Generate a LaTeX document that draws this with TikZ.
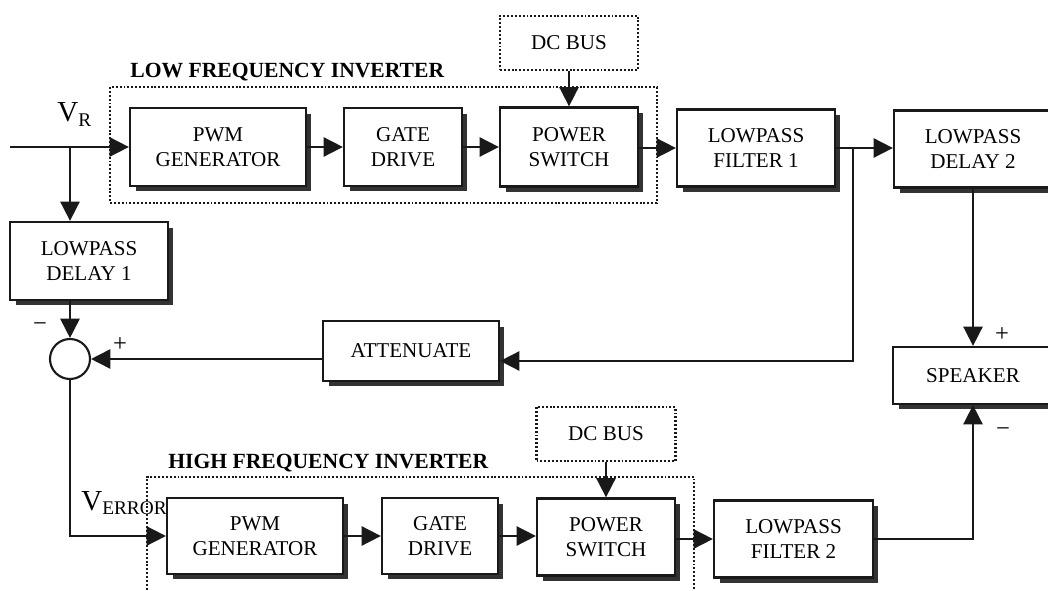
\documentclass[tikz,border=0pt]{standalone}
\usepackage{fontspec}
\setmainfont{Liberation Serif}
\usetikzlibrary{arrows.meta,shadows}
\newcommand\boxfont{\fontsize{12}{14.2}\selectfont}
\begin{document}
\begin{tikzpicture}[x=0.02cm,y=-0.02cm,
  box/.style={draw=black!90, line width=1.3pt, fill=white, align=center, font=\boxfont, inner sep=0pt,
    drop shadow={shadow xshift=0.11cm, shadow yshift=-0.11cm, fill=black!80, opacity=1}},
  dcbox/.style={draw=black!90, line width=1.4pt, dash pattern=on 1.1pt off 1.1pt, fill=white, align=center, font=\boxfont, inner sep=0pt},
  invbox/.style={draw=black!90, line width=1.4pt, dash pattern=on 1.1pt off 1.1pt, inner sep=0pt},
  conn/.style={line width=1pt, draw=black!90, -{Triangle[length=11pt,width=11pt]}},
  title/.style={font=\fontsize{12.3}{14}\selectfont\bfseries, anchor=base west, inner sep=0pt},
  sign/.style={font=\fontsize{14}{14}\selectfont, inner sep=0pt},
  lbl/.style={anchor=base west, inner sep=0pt}
]
\useasboundingbox[fill=white] (0,0) rectangle (1048,591);

% inverter frames
\node[invbox, minimum width=10.94cm, minimum height=2.32cm] (lfinv) at (383.5,145) {};
\node[invbox, minimum width=10.94cm, minimum height=2.66cm] (hfinv) at (420.5,543.5) {};
\node[title] (lftitle) at (130,78) {LOW FREQUENCY INVERTER};
\node[title] (hftitle) at (168,468) {HIGH FREQUENCY INVERTER};

% top row
\node[box, minimum width=3.52cm, minimum height=1.56cm] (pwmA) at (218,147) {PWM\\GENERATOR};
\node[box, minimum width=2.36cm, minimum height=1.56cm] (gateA) at (403,147) {GATE\\DRIVE};
\node[box, minimum width=2.76cm, minimum height=1.58cm] (powA) at (569,147) {POWER\\SWITCH};
\node[box, minimum width=3.16cm, minimum height=1.54cm] (lpf1) at (756,148) {LOWPASS\\FILTER 1};
\node[box, minimum width=3.16cm, minimum height=1.54cm] (lpd2) at (973,149) {LOWPASS\\DELAY 2};
\node[dcbox, minimum width=2.76cm, minimum height=1.08cm] (dcA) at (569,43) {DC BUS};

% middle
\node[box, minimum width=3.16cm, minimum height=1.56cm] (lpd1) at (89,261) {LOWPASS\\DELAY 1};
\node[draw=black!90, line width=1.2pt, circle, minimum size=0.8cm, inner sep=0pt, fill=white] (sum) at (70,359) {};
\node[box, minimum width=3.52cm, minimum height=1.2cm] (att) at (411,351) {ATTENUATE};
\node[box, minimum width=3.2cm, minimum height=1.14cm] (spk) at (973,375.5) {SPEAKER};

% bottom row
\node[box, minimum width=3.52cm, minimum height=1.52cm] (pwmB) at (255,536) {PWM\\GENERATOR};
\node[box, minimum width=2.32cm, minimum height=1.52cm] (gateB) at (440,536) {GATE\\DRIVE};
\node[box, minimum width=2.76cm, minimum height=1.54cm] (powB) at (606,537) {POWER\\SWITCH};
\node[box, minimum width=3.18cm, minimum height=1.54cm] (lpf2) at (793.5,539) {LOWPASS\\FILTER 2};
\node[dcbox, minimum width=2.78cm, minimum height=1.08cm] (dcB) at (606,434) {DC BUS};

% labels
\node[lbl] (vr) at (57,122) {\fontsize{16.5}{16}\selectfont V\raisebox{-2.4pt}{\fontsize{11}{11}\selectfont R}};
\node[lbl] (verr) at (81,510) {\fontsize{16.5}{16}\selectfont V\raisebox{-2.8pt}{\fontsize{11}{11}\selectfont ERROR}};
\node[sign] (m1) at (40,327) {−};
\node[sign] (p1) at (120,345) {+};
\node[sign] (p2) at (1002,335) {+};
\node[sign] (m2) at (1003,432) {−};

% coordinates
\coordinate (in1) at (10,147);
\coordinate (br) at (70,147);
\coordinate (fb) at (853,148);
\coordinate (fb2) at (853,361);

% connectors
\draw[conn] (in1) -- (pwmA.west);
\draw[conn] (pwmA.east) -- (gateA.west);
\draw[conn] (gateA.east) -- (powA.west);
\draw[conn] (powA.east |- lpf1.west) -- (lpf1.west);
\draw[conn] (lpf1.east) -- (lpd2.west |- lpf1.east);
\draw[conn] (dcA.south) -- (powA.north);
\draw[conn] (br) -- (lpd1.north -| br);
\draw[conn] (lpd1.south -| sum) -- (sum.north);
\draw[conn] (fb) -- (fb2) -- (att.east |- fb2);
\draw[conn] (att.west |- sum) -- (sum.east);
\draw[conn] (sum.south) |- (pwmB.west);
\draw[conn] (pwmB.east) -- (gateB.west);
\draw[conn] (gateB.east) -- (powB.west |- gateB.east);
\draw[conn] (powB.east |- lpf2.west) -- (lpf2.west);
\draw[conn] (dcB.south) -- (powB.north);
\draw[conn] (lpd2.south) -- (spk.north);
\draw[conn] (lpf2.east) -| (spk.south);
\end{tikzpicture}
\end{document}
